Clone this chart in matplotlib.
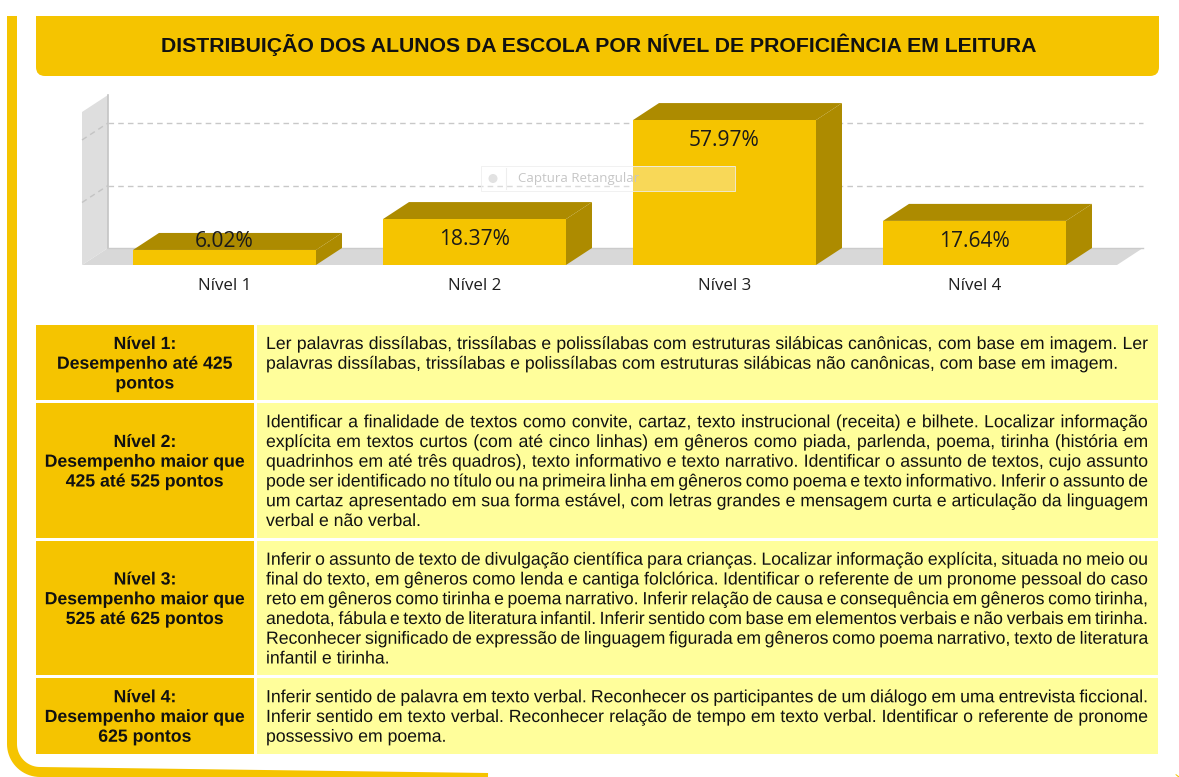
import numpy as np
import matplotlib
matplotlib.use('Agg')
import matplotlib.pyplot as plt
from matplotlib import patheffects
from matplotlib.patches import Polygon, Rectangle, FancyBboxPatch, Circle
from matplotlib.lines import Line2D
from matplotlib.font_manager import FontProperties

# ---------------- data ----------------
categories = ['Nível 1', 'Nível 2', 'Nível 3', 'Nível 4']
percentages = [6.02, 18.37, 57.97, 17.64]
value_labels = ['6.02%', '18.37%', '57.97%', '17.64%']
grid_values = [25, 50]
y_max = 61.2

title = 'DISTRIBUIÇÃO DOS ALUNOS DA ESCOLA POR NÍVEL DE PROFICIÊNCIA EM LEITURA'

level_headers = [
    ['Nível 1:', 'Desempenho até 425', 'pontos'],
    ['Nível 2:', 'Desempenho maior que', '425 até 525 pontos'],
    ['Nível 3:', 'Desempenho maior que', '525 até 625 pontos'],
    ['Nível 4:', 'Desempenho maior que', '625 pontos'],
]

level_descriptions = [
    ['Ler palavras dissílabas, trissílabas e polissílabas com estruturas silábicas canônicas, com base em imagem. Ler',
     'palavras dissílabas, trissílabas e polissílabas com estruturas silábicas não canônicas, com base em imagem.'],
    ['Identificar a finalidade de textos como convite, cartaz, texto instrucional (receita) e bilhete. Localizar informação',
     'explícita em textos curtos (com até cinco linhas) em gêneros como piada, parlenda, poema, tirinha (história em',
     'quadrinhos em até três quadros), texto informativo e texto narrativo. Identificar o assunto de textos, cujo assunto',
     'pode ser identificado no título ou na primeira linha em gêneros como poema e texto informativo. Inferir o assunto de',
     'um cartaz apresentado em sua forma estável, com letras grandes e mensagem curta e articulação da linguagem',
     'verbal e não verbal.'],
    ['Inferir o assunto de texto de divulgação científica para crianças. Localizar informação explícita, situada no meio ou',
     'final do texto, em gêneros como lenda e cantiga folclórica. Identificar o referente de um pronome pessoal do caso',
     'reto em gêneros como tirinha e poema narrativo. Inferir relação de causa e consequência em gêneros como tirinha,',
     'anedota, fábula e texto de literatura infantil. Inferir sentido com base em elementos verbais e não verbais em tirinha.',
     'Reconhecer significado de expressão de linguagem figurada em gêneros como poema narrativo, texto de literatura',
     'infantil e tirinha.'],
    ['Inferir sentido de palavra em texto verbal. Reconhecer os participantes de um diálogo em uma entrevista ficcional.',
     'Inferir sentido em texto verbal. Reconhecer relação de tempo em texto verbal. Identificar o referente de pronome',
     'possessivo em poema.'],
]

# ---------------- style ----------------
GOLD = '#F5C400'
DARK_GOLD = '#AD8B00'
LIGHT = '#FFFE9B'
TEXT = '#111111'
AS_PATH = [patheffects.Normal()]   # exact sub-pixel baselines for word-by-word text

W, H = 1179, 777
fig = plt.figure(figsize=(W / 100, H / 100), dpi=100)
fig.patch.set_facecolor('white')
renderer = fig.canvas.get_renderer()

bg = fig.add_axes([0, 0, 1, 1])
bg.set_xlim(0, W)
bg.set_ylim(H, 0)
bg.axis('off')


def text_w(s, fp):
    return renderer.get_text_width_height_descent(s, fp, ismath=False)[0]


def fit_fp(s, target, family, weight='normal'):
    fp = FontProperties(family=family, weight=weight, size=12)
    size = 12 * target / text_w(s, fp)
    return FontProperties(family=family, weight=weight, size=size)


def put(x, y, s, fp, ha='left'):
    bg.text(x, y, s, ha=ha, va='baseline', fontproperties=fp, color=TEXT,
            zorder=4, path_effects=AS_PATH)


# ---------------- outer frame ----------------
th1 = np.linspace(np.pi, np.pi / 2, 20)
th2 = np.linspace(np.pi / 2, 0, 20)
fx = np.concatenate([[12], 40 + 28 * np.cos(th1), 1160 + 25 * np.cos(th2), [1185]])
fy = np.concatenate([[16], 744 + 28 * np.sin(th1), 762 + 25 * np.sin(th2), [16]])
bg.add_line(Line2D(fx, fy, color=GOLD, lw=7.2, solid_capstyle='butt',
                   solid_joinstyle='round', zorder=1))

# ---------------- title bar ----------------
bg.add_patch(FancyBboxPatch((36, 0), 1123, 76, boxstyle='round,pad=0,rounding_size=9',
                            fc=GOLD, ec='none', zorder=2))
bg.add_patch(Rectangle((0, 0), W, 16, fc='white', ec='none', zorder=3))
fp_title = fit_fp(title, 876, 'Liberation Sans', 'bold')
bg.text(599, 51.5, title, ha='center', va='baseline', fontproperties=fp_title,
        color=TEXT, zorder=4)

# ---------------- table ----------------
fp_body = fit_fp(level_descriptions[0][1], 854, 'Liberation Sans')
fp_head = FontProperties(family='Liberation Sans', weight='bold', size=fp_body.get_size())

pitch = 19.75
x_text0, x_text1 = 266, 1148


def draw_justified(line, y):
    words = line.split(' ')
    widths = [text_w(w_, fp_body) for w_ in words]
    gap = (x_text1 - x_text0 - sum(widths)) / (len(words) - 1)
    x = x_text0
    for w_, wd in zip(words, widths):
        put(x, y, w_, fp_body)
        x += wd + gap


row_top = 325
for hdr, desc in zip(level_headers, level_descriptions):
    n = max(len(hdr), len(desc))
    h = n * pitch + 16
    bg.add_patch(Rectangle((36, row_top), 218, h, fc=GOLD, ec='none', zorder=2))
    bg.add_patch(Rectangle((257, row_top), 901, h, fc=LIGHT, ec='none', zorder=2))
    k = max(0, (len(desc) - len(hdr)) // 2)
    for j, s in enumerate(hdr):
        put(145, row_top + 24 + (k + j) * pitch, s, fp_head, ha='center')
    for j, s in enumerate(desc):
        y = row_top + 24 + j * pitch
        if j < len(desc) - 1:
            draw_justified(s, y)
        else:
            put(x_text0, y, s, fp_body)
    row_top += h + 3

# ---------------- 3D bar chart ----------------
ch_left, ch_right, ch_bottom, ch_top = 82, 1117, 265, 112
ax = fig.add_axes([ch_left / W, 1 - ch_bottom / H, (ch_right - ch_left) / W,
                   (ch_bottom - ch_top) / H])
xmin, xmax = -0.57, 3.57
ax.set_xlim(xmin, xmax)
ax.set_ylim(0, y_max)
ax.axis('off')
ax.patch.set_alpha(0)

px_x = (ch_right - ch_left) / (xmax - xmin)
px_y = (ch_bottom - ch_top) / y_max
ddx = 26 / px_x
ddy = 17 / px_y

# floor
ax.add_patch(Polygon([(xmin, 0), (xmax, 0), (xmax + ddx, ddy), (xmin + ddx, ddy)],
                     closed=True, fc='#D8D8D8', ec='none', clip_on=False, zorder=1))
# left wall
ax.add_patch(Polygon([(xmin, 0), (xmin, y_max), (xmin + ddx, y_max + ddy), (xmin + ddx, ddy)],
                     closed=True, fc='#DEDEDE', ec='none', clip_on=False, zorder=1))
ax.plot([xmin + ddx, xmin + ddx], [ddy, y_max + ddy], color='#C4C4C4', lw=1.2,
        clip_on=False, zorder=1.5)
ax.plot([xmin + ddx, xmax + ddx], [ddy, ddy], color='#CBCBCB', lw=1.0,
        clip_on=False, zorder=1.5)
# gridlines
for g in grid_values:
    ax.plot([xmin + ddx, xmax + ddx], [g + ddy, g + ddy], color='#C8C8C8', lw=1.0,
            dashes=(4, 3), clip_on=False, zorder=1.5)
    ax.plot([xmin, xmin + ddx], [g, g + ddy], color='#C4C4C4', lw=1.0,
            dashes=(4, 3), clip_on=False, zorder=1.5)

xs = np.arange(len(categories))
bw = 0.732
for x, v in zip(xs, percentages):
    x0, x1 = x - bw / 2, x + bw / 2
    ax.add_patch(Polygon([(x0, v), (x1, v), (x1 + ddx, v + ddy), (x0 + ddx, v + ddy)],
                         closed=True, fc=DARK_GOLD, ec='none', clip_on=False, zorder=2))
    ax.add_patch(Polygon([(x1, 0), (x1, v), (x1 + ddx, v + ddy), (x1 + ddx, ddy)],
                         closed=True, fc=DARK_GOLD, ec='none', clip_on=False, zorder=2))
ax.bar(xs, percentages, width=bw, color=GOLD, linewidth=0, zorder=3, clip_on=False)

fp_val = FontProperties(family='Open Sans', size=15.1)
fp_cat = FontProperties(family='Open Sans', size=12.2)
for x, v, lab in zip(xs, percentages, value_labels):
    ax.text(x, max(v - 10.4, 7.2), lab, ha='center', va='baseline', fontproperties=fp_val,
            color='#1A1A1A', zorder=5, clip_on=False)
for x, cat in zip(xs, categories):
    ax.text(x, -10, cat, ha='center', va='baseline', fontproperties=fp_cat,
            color='#1E1E1E', zorder=5, clip_on=False)

# ---------------- faint screen-capture overlay ----------------
ov = fig.add_axes([0, 0, 1, 1])
ov.set_xlim(0, W)
ov.set_ylim(H, 0)
ov.axis('off')
ov.patch.set_alpha(0)
ov.add_patch(Rectangle((481, 166), 254, 25, fc='white', alpha=0.35, ec='none'))
ov.add_patch(Rectangle((481, 166), 254, 25, fc='none', ec='#EFEFEF', lw=0.6))
ov.add_patch(Circle((493, 178.5), 4.5, fc='#E2E2E2', ec='none'))
ov.plot([506, 506], [168, 189], color='#EEEEEE', lw=0.8)
ov.text(518, 178.5, 'Captura Retangular', ha='left', va='center',
        fontproperties=FontProperties(family='Open Sans', size=9.5), color='#C6C6C6')

fig.savefig('out.png', dpi=100)
